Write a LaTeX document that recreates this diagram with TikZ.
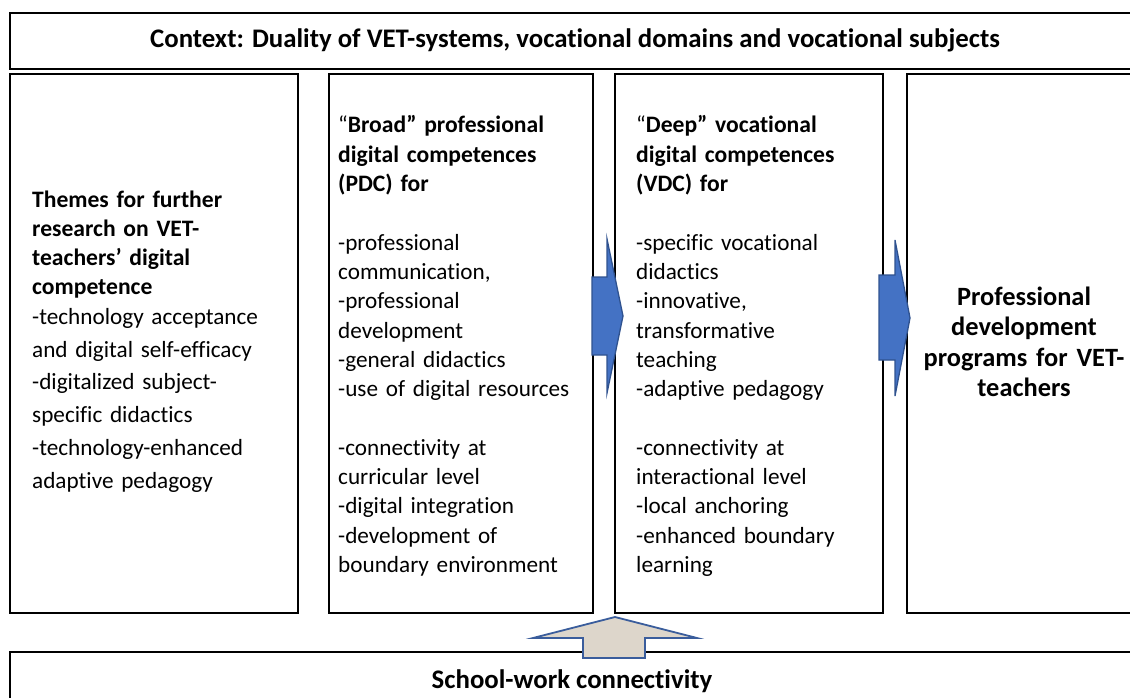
\documentclass[tikz,border=0pt]{standalone}
\usepackage{fontspec}
\setmainfont[Ligatures=NoCommon]{Carlito}
\usetikzlibrary{calc}
\definecolor{arrowblue}{HTML}{4472C4}
\definecolor{arrowedge}{HTML}{2F528F}
\definecolor{beige}{HTML}{DDD6CB}
\definecolor{upedge}{HTML}{3A5D9C}
\tikzset{
  frame/.style={draw=black, line width=1.6pt, fill=white, inner sep=0pt, anchor=north west},
  txt/.style={inner sep=0pt, anchor=base west, text width=300pt, align=left,
    font=\fontsize{23.2}{29.3}\selectfont},
  hd/.style={font=\fontsize{23.6}{29.3}\selectfont\bfseries},
  ctxt/.style={inner sep=0pt, anchor=base, align=center, text width=260pt,
    font=\fontsize{26.4}{30.5}\selectfont\bfseries},
  bigtxt/.style={inner sep=0pt, anchor=base, font=\fontsize{26.8}{30}\selectfont\bfseries},
  rightarrow/.style={fill=arrowblue, draw=arrowedge, line width=1.3pt, line join=miter},
  uparrow/.style={fill=beige, draw=upedge, line width=1.8pt, line join=miter}
}
\newcommand{\hdr}[1]{{\fontsize{23.6}{29.3}\selectfont\bfseries #1}}
\begin{document}
\begin{tikzpicture}[x=1pt,y=-1pt]
\useasboundingbox (0,0) rectangle (1130,698);
\clip (0,0) rectangle (1130,698);
% frames
\node[frame, minimum width=1140pt, minimum height=56pt] (ctx) at (9,12) {};
\node[frame, minimum width=288pt, minimum height=539pt] (themes) at (9,73) {};
\node[frame, minimum width=264pt, minimum height=539pt] (pdc) at (328,73) {};
\node[frame, line width=2.2pt, minimum width=268pt, minimum height=539pt] (vdc) at (614,73) {};
\node[frame, minimum width=240pt, minimum height=539pt] (pdp) at (906,73) {};
\node[frame, minimum width=1140pt, minimum height=80pt] (swc) at (9,651) {};
% texts
\node[bigtxt] (ctxlabel) at (575,48)
  {Context: Duality of VET-systems, vocational domains and vocational subjects};
\node[txt] (themestext) at (32,207) {\hdr{Themes for further}\\\hdr{research on VET-}\\\hdr{teachers’ digital}\\\hdr{competence}\\-technology acceptance\\[3.5pt]and digital self-efficacy\\[3.5pt]-digitalized subject-\\[3.5pt]specific didactics\\[3.5pt]-technology-enhanced\\[3.5pt]adaptive pedagogy};
\node[txt] (pdctext) at (338,133) {“\hdr{Broad” professional}\\\hdr{digital competences}\\\hdr{(PDC) for}\\[29.3pt]-professional\\communication,\\-professional\\development\\-general didactics\\-use of digital resources\\[29.3pt]-connectivity at\\curricular level\\-digital integration\\-development of\\boundary environment};
\node[txt] (vdctext) at (636,133) {“\hdr{Deep” vocational}\\\hdr{digital competences}\\\hdr{(VDC) for}\\[29.3pt]-specific vocational\\didactics\\-innovative,\\transformative\\teaching\\-adaptive pedagogy\\[29.3pt]-connectivity at\\interactional level\\-local anchoring\\-enhanced boundary\\learning};
\node[ctxt] (pdptext) at (1024,305) {Professional\\development\\programs for VET-\\teachers};
\node[bigtxt] (swclabel) at (572,688) {School-work connectivity};
% block arrows
\draw[rightarrow] (592,277) -- (607,277) -- (607,239) -- (623,316) -- (607,393) -- (607,355) -- (592,355) -- cycle;
\draw[rightarrow] (879,275) -- (895,275) -- (895,240) -- (910,318) -- (895,396) -- (895,360) -- (879,360) -- cycle;
\draw[uparrow] (583,658) -- (583,638) -- (533,638) -- (615,617) -- (697,638) -- (645,638) -- (645,658) -- cycle;
\end{tikzpicture}
\end{document}
